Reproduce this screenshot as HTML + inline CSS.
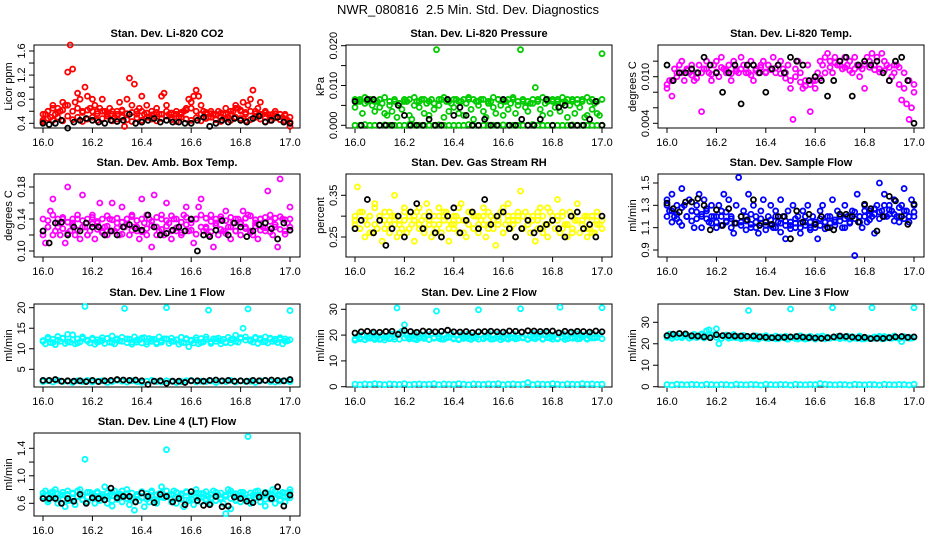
<!DOCTYPE html>
<html><head><meta charset="utf-8"><style>
html,body{margin:0;padding:0;background:#fff;}
svg{display:block;font-family:"Liberation Sans",sans-serif;}
</style></head><body>
<svg id="c" width="936" height="540" viewBox="0 0 936 540">
<text x="468" y="14" text-anchor="middle" font-size="13">NWR_080816&#160; 2.5 Min. Std. Dev. Diagnostics</text>
</svg>
<script>
// ---- data (x implied evenly from 16.0 to 17.0) ----
const xTicks=[16.0,16.2,16.4,16.6,16.8,17.0];
const co2Red=[.45,.55,.6,.5,.7,.55,.65,.6,.75,.7,1.25,1.7,1.3,.75,.9,.8,.6,1.0,.85,.65,.8,.7,.6,.65,.8,.6,.55,.65,.6,.5,.55,.75,.6,.35,.8,1.15,.7,1.05,.6,.65,.85,.55,.7,.5,.6,.55,.65,.55,.85,.9,.7,.55,.5,.55,.6,.5,.55,.6,.65,.8,.75,.85,.95,.85,.7,.6,.55,.5,.6,.55,.55,.6,.5,.55,.65,.5,.55,.6,.7,.65,.6,.75,.55,.7,.8,.95,.6,.65,.75,.55,.6,.55,.5,.55,.6,.5,.55,.5,.55,.45,.35];
const co2RedLow=[.42,.48,.45,.5,.44,.52,.46,.5,.43,.47,.5,.45,.48,.52,.44,.47,.5,.46,.43,.49,.45,.5,.47,.44,.48,.52,.46,.43,.5,.47,.45,.49,.44,.48,.5,.46,.43,.47,.45,.5,.48,.44,.46,.5,.47,.43,.45,.49,.46,.44,.42];
const co2RedMid=[.55,.6,.65,.58,.62,.7,.6,.65,.58,.62,.6,.56,.6,.58,.55,.6,.62,.56,.58,.55,.6,.57,.54,.58,.55,.6,.57,.55,.58,.62,.65,.6,.55,.58,.56,.54,.57,.55,.6,.65,.62,.58,.6,.56,.55,.58,.54,.56,.55,.53,.5];
const co2Black=[.4,.38,.4,.45,.32,.42,.45,.48,.45,.42,.4,.45,.43,.45,.55,.4,.42,.45,.48,.42,.45,.42,.42,.4,.4,.45,.5,.35,.4,.45,.42,.48,.45,.42,.48,.52,.42,.45,.5,.42,.4];
const presGreen=[.0045,.006,.0065,.003,.0055,.006,.0065,.005,.0035,.006,.0045,.0055,.003,.0025,.005,.0035,.006,.002,.0055,.004,.0065,.006,.0025,.0015,.005,.006,.0045,.0065,.003,.0055,.0025,.0065,.004,.019,.005,.0065,.002,.006,.0035,.0055,.0045,.0065,.003,.006,.0025,.0055,.0065,.004,.0015,.006,.005,.0065,.0035,.002,.0055,.006,.0045,.003,.0065,.005,.0025,.006,.004,.0055,.0065,.003,.005,.019,.006,.0045,.0035,.0055,.0065,.0095,.006,.004,.0025,.0055,.0065,.003,.006,.0045,.0065,.0035,.0055,.006,.002,.005,.0065,.003,.0055,.0045,.0065,.002,.0025,.006,.004,.0055,.003,.0025,.018];
const presGreenTop=[.0065,.006,.007,.0065,.006,.0065,.007,.006,.0065,.0055,.006,.0065,.007,.006,.0065,.006,.0055,.0065,.007,.006,.0065,.006,.0065,.007,.0065,.006,.0065,.006,.007,.0065,.006,.0065,.007,.006,.0065,.006,.0055,.0065,.007,.006,.0065,.006,.007,.0065,.006,.0065,.006,.007,.0065,.006,.0065];
const presGreenZero=[0,0,.0002,0,0,0,.0001,0,0,0,0,.0002,0,0,0,0,0,.0001,0,0,0,0,0,.0002,0,0,0,0,0,0,.0001,0,0,0,0,0,.0002,0,0,0,0,0,0,0,.0001,0,0,0,0,0,0];
const presBlack=[.006,0,.0065,.0065,0,0,0,.005,.0025,0,0,0,.0015,0,0,.0065,.0025,.0045,.0025,0,0,.0015,0,0,.0065,0,0,.0015,0,0,.0015,.0065,0,.0045,.005,0,0,0,.0015,.006,0];
const tempMag=[.0085,.0095,.0075,.011,.0105,.0115,.012,.0095,.011,.0105,.0115,.0095,.0105,.0115,.0055,.011,.012,.0105,.0095,.0115,.012,.01,.0125,.011,.0105,.0115,.0095,.012,.011,.0105,.0125,.0115,.011,.0105,.012,.0095,.011,.0105,.0115,.012,.0105,.0115,.011,.0125,.0105,.0115,.012,.011,.0105,.0115,.0085,.0045,.011,.012,.0105,.0085,.0095,.0115,.0055,.0095,.0085,.0105,.012,.0115,.0125,.013,.012,.0105,.0125,.0115,.012,.011,.0125,.0115,.012,.0105,.0125,.0115,.01,.011,.0085,.0125,.012,.013,.0115,.0125,.011,.013,.012,.0115,.0095,.01,.0105,.0115,.009,.007,.0085,.0065,.0045,.006,.009];
const tempMagMid=[.009,.0095,.01,.0105,.0108,.0102,.0098,.0105,.011,.0103,.0106,.0112,.0108,.0104,.0107,.011,.0105,.0102,.0108,.0112,.0106,.0109,.0111,.0104,.0098,.0095,.01,.0093,.0088,.009,.0095,.0098,.0105,.0112,.0118,.0115,.0112,.0108,.011,.0113,.0116,.0112,.0109,.0106,.0108,.0112,.0115,.0112,.0105,.0095,.008];
const tempBlack=[.0115,.0095,.0105,.0105,.011,.0105,.0125,.0115,.0105,.008,.0105,.0115,.0065,.0115,.0115,.0105,.008,.011,.0115,.0105,.0125,.012,.0115,.0095,.01,.0095,.0075,.0095,.012,.0125,.0075,.0115,.012,.0115,.012,.0105,.0095,.012,.0125,.0095,.004];
const ambMag=[.12,.11,.13,.15,.165,.125,.13,.12,.14,.11,.18,.125,.135,.12,.14,.115,.17,.13,.12,.125,.145,.115,.135,.16,.125,.13,.12,.14,.16,.125,.135,.12,.155,.13,.14,.12,.145,.13,.125,.115,.165,.135,.12,.14,.105,.17,.13,.125,.145,.12,.16,.135,.115,.14,.125,.13,.12,.145,.155,.125,.135,.11,.14,.155,.165,.125,.13,.12,.145,.105,.135,.12,.14,.125,.15,.13,.115,.135,.125,.14,.12,.15,.13,.145,.125,.12,.135,.115,.14,.13,.125,.175,.145,.12,.13,.105,.19,.14,.125,.135,.155];
const ambMagMid=[.125,.13,.12,.135,.128,.122,.132,.126,.13,.12,.134,.127,.123,.131,.125,.129,.121,.133,.126,.13,.124,.128,.132,.12,.127,.131,.125,.129,.123,.133,.126,.121,.13,.128,.124,.132,.127,.122,.13,.125,.134,.128,.123,.131,.126,.129,.124,.133,.127,.121,.13];
const ambMagHi=[.14,.138,.145,.14,.142,.136,.14,.145,.138,.14,.142,.137,.14,.144,.139,.141,.136,.14,.143,.138,.14,.145,.137,.142,.14,.138,.144,.14,.136,.142,.139,.14,.145,.141,.137,.14,.143,.138,.142,.14,.136,.141,.144,.139,.14,.142,.137,.141,.143,.139,.14];
const ambBlack=[.125,.11,.135,.136,.12,.13,.125,.135,.13,.13,.12,.125,.12,.13,.133,.128,.126,.145,.13,.12,.122,.126,.13,.125,.14,.1,.12,.118,.126,.138,.12,.135,.13,.118,.125,.133,.135,.128,.115,.135,.126];
const rhYellow=[.29,.37,.27,.31,.25,.28,.3,.26,.33,.27,.29,.24,.31,.28,.26,.3,.35,.25,.29,.27,.32,.26,.3,.28,.24,.31,.27,.29,.26,.33,.28,.25,.3,.27,.32,.26,.29,.31,.24,.28,.27,.3,.26,.33,.29,.25,.28,.31,.27,.3,.26,.29,.32,.25,.28,.3,.27,.23,.29,.31,.26,.28,.33,.27,.3,.25,.29,.36,.27,.31,.28,.26,.3,.24,.29,.32,.27,.28,.25,.31,.29,.27,.34,.26,.3,.28,.25,.31,.27,.29,.33,.26,.28,.3,.25,.27,.29,.26,.3,.28,.27];
const rhYellowMid=[.28,.27,.29,.26,.28,.3,.27,.29,.28,.26,.29,.27,.3,.28,.27,.29,.26,.28,.3,.27,.28,.29,.26,.28,.27,.3,.28,.27,.29,.28,.26,.29,.28,.3,.27,.28,.29,.27,.26,.28,.3,.29,.27,.28,.26,.29,.28,.27,.26,.28,.29];
const rhYellowHi=[.3,.31,.29,.3,.32,.3,.29,.31,.3,.28,.31,.3,.29,.32,.3,.31,.28,.3,.31,.29,.3,.32,.29,.31,.3,.28,.3,.31,.29,.3,.32,.3,.29,.31,.3,.3,.29,.31,.3,.32,.29,.3,.31,.28,.3,.31,.29,.3,.3,.31,.29];
const rhBlack=[.27,.29,.34,.26,.29,.23,.27,.3,.25,.31,.33,.27,.3,.26,.25,.3,.32,.26,.29,.31,.27,.34,.28,.3,.31,.27,.25,.27,.29,.26,.27,.28,.29,.27,.25,.3,.31,.27,.28,.25,.3];
const flowBlue=[1.35,1.25,1.4,1.2,1.3,1.15,1.45,1.3,1.2,1.35,1.25,1.1,1.3,1.4,1.2,1.35,1.25,1.15,1.3,1.2,1.1,1.3,1.25,1.4,1.15,1.35,1.2,1.05,1.3,1.55,1.15,1.25,1.2,1.4,1.1,1.3,1.2,1.05,1.25,1.35,1.15,1.2,1.3,1.1,1.25,1.15,1.35,1.2,1.0,1.25,1.15,1.3,1.1,1.2,1.05,1.25,1.15,1.3,1.1,1.2,1.15,1.0,1.25,1.3,1.15,1.2,1.1,1.35,1.15,1.25,1.2,1.1,1.3,1.2,1.15,1.25,.85,1.4,1.2,1.1,1.3,1.15,1.25,1.2,1.05,1.3,1.5,1.25,1.4,1.2,1.3,1.25,1.35,1.2,1.15,1.3,1.45,1.25,1.2,1.35,1.3];
const flowBlueMid=[1.3,1.25,1.22,1.28,1.2,1.25,1.18,1.22,1.27,1.2,1.15,1.2,1.24,1.18,1.14,1.2,1.16,1.22,1.15,1.18,1.12,1.17,1.2,1.14,1.16,1.12,1.18,1.14,1.2,1.15,1.13,1.18,1.15,1.2,1.17,1.22,1.18,1.2,1.24,1.2,1.25,1.22,1.27,1.24,1.3,1.26,1.22,1.28,1.25,1.2,1.24];
const flowBlueLo=[1.2,1.15,1.18,1.12,1.2,1.16,1.24,1.1,1.18,1.14,1.2,1.12,1.16,1.1,1.14,1.12,1.08,1.13,1.1,1.14,1.08,1.12,1.1,1.06,1.12,1.09,1.14,1.1,1.12,1.08,1.1,1.12,1.09,1.14,1.12,1.16,1.1,1.14,1.18,1.15,1.2,1.17,1.22,1.18,1.2,1.22,1.16,1.2,1.18,1.15,1.2];
const flowBlack=[1.32,1.27,1.24,1.33,1.33,1.36,1.3,1.08,1.26,1.12,1.27,1.14,1.2,1.17,1.35,1.12,1.15,1.13,1.2,1.2,1.0,1.25,1.15,1.22,1.13,1.2,1.1,1.08,1.22,1.22,1.2,1.15,1.31,1.27,1.07,1.2,1.38,1.34,1.2,1.13,1.31];
const l1High=[12,11.2,12.8,11.5,12.3,11,13,11.8,12.5,11.3,13.5,11.6,13.4,11.2,12.4,11.7,12.9,20.3,12.1,11.4,12.6,11.1,12.2,11.8,12.7,11.3,12.5,11.6,13.1,11.2,12.4,11.9,12.8,19.8,11.5,12.3,11.1,12.9,11.6,12.2,11.4,12.7,11.1,12.5,11.8,12.3,11.2,12.9,11.6,12.4,20,11.3,12.6,11.8,12.2,11.1,12.8,11.5,12.3,10.5,12.1,11.4,12.7,11.2,12.5,11.7,12.9,19.4,11.3,12.4,11.8,12.6,11.2,12.3,11.5,12.8,11.4,12.4,13.3,11.6,12.7,15,12.9,19.7,12.2,11.6,12.8,11.3,12.5,11.7,12.9,11.4,12.6,11.8,12.3,11.5,12.7,11.2,12.4,11.9,19.3];
const l1Mid=[11.8,12.4,11.5,12.1,12.6,11.7,12.2,11.4,12.5,11.9,12.3,11.6,12,12.5,11.5,12.2,11.8,12.4,11.6,12.1,12.6,11.7,12.3,11.5,12,12.4,11.8,12.2,11.6,12.5,11.9,12.1,11.5,12.3,11.7,12.4,12,11.6,12.2,11.8,12.5,12.1,11.9,12.6,12.2,11.8,12.4,12,12.3,11.9,12.2];
const l1Low=[2,2.2,1.9,2.3,2,2.1,1.8,2.2,2,2.3,1.9,2.1,2.2,1.8,2,2.3,2.1,1.9,2.2,2,1.8,2.1,2.3,2,1.9,2.2,2.1,1.8,2,2.2,2.3,1.9,2.1,2,2.2,1.8,2.1,2,2.3,1.9,2.2,2,2.1,1.8,2.2,2.3,2,1.9,2.1,2.2,2];
const l1Black=[2.3,2.3,2.5,2.1,2.2,2.1,2.2,2,2.3,2,2.2,2.3,2.5,2.4,2.3,2.4,2.2,1.3,2.1,2.2,1.6,2.1,2.1,1.8,2.2,2.2,2.1,2.3,2.4,2.2,2.3,2.1,2.2,2.1,2.3,2.2,2.3,2.4,2.3,2.2,2.5];
const l2High=[18,19.5,18.5,20,18.2,19,18.8,20.5,18.3,19.2,18.6,20.2,18.1,19.4,18.9,20.4,18.4,30.5,20.8,21.5,24,19.8,18.5,19.6,20.7,18.2,19.3,20.1,18.7,19.9,18.3,20.6,18.8,29.3,19.5,18.4,20.3,18.9,19.2,20.5,18.5,19.8,18.2,20.1,18.7,19.4,20.6,18.3,19.7,18.9,29.8,20.2,18.6,19.3,20.8,18.4,19.9,18.8,20.3,18.2,19.5,20.6,18.7,19.1,20.4,18.5,19.8,30.2,18.9,20.1,18.3,19.6,20.7,18.6,19.2,20.4,18.4,19.9,20.9,18.8,19.4,20.2,18.5,30.8,20.6,18.3,19.7,20.9,18.8,19.3,20.5,18.6,19.8,20.1,18.4,19.5,20.7,18.9,19.2,20.3,30.6];
const l2Mid=[18.5,19,18.2,19.4,18.8,18.3,19.1,18.6,19.3,18.4,18.9,19.2,18.5,18.8,19.4,18.3,19,18.7,18.4,19.2,18.8,18.5,19.3,18.6,19,18.4,18.9,19.1,18.5,19.3,18.7,18.4,19,18.8,19.2,18.5,18.9,19.3,18.6,19,18.4,18.8,19.2,18.6,19,18.5,19.3,18.7,18.9,19.1,18.6];
const l2Low=[1,.8,1.1,.9,1.2,1,.8,1.1,1,.9,1.2,.8,1,1.1,.9,1,1.2,.8,1.1,1,.9,1.2,1,.8,1.1,1,.9,1.1,1,1.2,.8,1,1.1,.9,1,1.6,.8,1.1,1,.9,1.2,1,.8,1.1,1,.9,1.2,1,1.1,.9,1];
const l2Black=[20.8,21.3,21.5,21.2,21.1,21.4,21.5,20.3,21.8,21.4,21.1,21.6,21.4,21.3,21.5,21.9,21.3,21.2,21.4,21,21.3,21.4,21.5,21.3,21.2,21.6,21.5,21.2,21.7,21.6,21.4,21.5,21.6,20.9,21.5,21.2,21.5,21.4,21.2,21.6,21.3];
const l3High=[23.5,24.5,22.5,24,23,24.8,22.8,23.6,24.2,22.6,23.8,24.4,22.9,23.4,24.6,22.7,26,26.5,23.5,24.2,27,20,22.4,23.8,24.1,22.6,23.3,24.3,22.8,23.5,22.3,23.9,22.6,35.5,23.1,22.5,23.7,22.2,23.4,22.9,23.8,22.4,23.1,22.7,23.6,22.3,23.2,22.8,23.5,22.1,36.2,22.9,23.4,22.2,23.7,22.6,23.1,22.4,23.5,22.8,22.2,23.3,22.7,23.6,22.3,23.1,22.6,36.8,22.9,23.4,22.5,23.2,22.7,23.5,22.1,23.3,22.8,22.4,23.6,22.2,23.1,22.7,22.4,36.8,23.2,22.6,23.5,22.3,23.4,22.8,23.1,22.5,23.6,22.9,22.4,21,23.3,22.7,23.1,22.6,36.8];
const l3Mid=[23,23.6,24,23.3,23.8,23.1,23.5,24.1,23.2,23.7,23,22.5,23.4,22.8,23.2,22.6,23,22.7,22.4,23.1,22.6,22.9,22.3,22.8,22.5,23,22.4,22.7,22.2,22.9,22.5,22.8,22.3,22.6,22.9,22.4,22.7,22.2,22.6,22.9,22.3,22.7,22.5,22.8,22.4,22.7,22.9,22.5,22.8,22.6,23];
const l3Low=[1,.8,1.2,1,.9,1.1,1,.8,1.2,1,.9,1.1,1,.8,1.2,1,.9,1.1,1,.8,1.2,1,.9,1.1,1,.8,1.2,1,.9,1.1,1,1.5,1.2,1,.9,1.1,1,.8,1.2,1,.9,1.1,1,.8,1.2,1,.9,1.1,1,.8,1.2];
const l3Black=[23.8,24.5,24.8,24.6,23.7,23.6,23.2,22.8,24.2,23.8,23.8,23.6,23.6,23.5,23.6,23.2,23,22.8,22.9,23,23.2,23.4,23.1,22.9,22.7,22.5,22.8,23.2,23.6,23.4,23.1,22.8,23,22.4,22.5,22.5,22.8,23.2,23.4,23,23.2];
const l4Cyan=[.7,.78,.62,.75,.68,.8,.6,.72,.66,.55,.78,.64,.74,.58,.7,.8,.66,1.24,.62,.76,.68,.6,.75,.64,.7,.84,.6,.72,.56,.78,.66,.74,.62,.7,.8,.58,.68,.5,.72,.64,.76,.55,.7,.62,.78,.66,.6,.74,.84,.68,1.38,.72,.62,.78,.6,.7,.66,.55,.76,.64,.72,.58,.8,.68,.62,.74,.66,.7,.6,.78,.64,.72,.68,.6,.45,.8,.52,.74,.64,.7,.62,.76,.66,1.57,.6,.72,.68,.78,.62,.7,.56,.74,.66,.8,.6,.72,.64,.76,.62,.7,.8];
const l4CyanMid=[.68,.65,.7,.66,.72,.64,.68,.7,.65,.69,.71,.66,.68,.7,.64,.69,.72,.67,.65,.7,.68,.66,.71,.64,.69,.7,.66,.68,.72,.65,.67,.7,.69,.64,.68,.71,.66,.7,.67,.65,.72,.68,.64,.69,.7,.66,.71,.68,.65,.7,.68];
const l4CyanHi=[.75,.72,.77,.74,.76,.73,.75,.78,.72,.76,.74,.77,.73,.75,.76,.72,.78,.74,.75,.73,.77,.74,.76,.72,.75,.78,.73,.76,.74,.77,.72,.75,.74,.77,.73,.76,.75,.72,.78,.74,.76,.73,.75,.77,.72,.76,.74,.78,.73,.75,.76];
const l4Black=[.67,.67,.67,.6,.67,.63,.73,.6,.68,.67,.65,.82,.68,.7,.7,.62,.75,.7,.61,.73,.7,.62,.67,.58,.77,.64,.57,.58,.7,.55,.56,.69,.67,.63,.61,.69,.75,.67,.84,.56,.72];

// ---- layout ----
const svg=document.getElementById('c');
const NS='http://www.w3.org/2000/svg';
const cols=[34,346,658], rows=[45,174,304,433], W=266, H=83;
function el(tag,attrs,parent){const e=document.createElementNS(NS,tag);for(const k in attrs)e.setAttribute(k,attrs[k]);(parent||svg).appendChild(e);return e;}
function panel(ci,ri,title,ylab,yref,ticks,labels,series,name){
  const x0=cols[ci],y0=rows[ri];
  const g=el('g',{});
  
  
  const xs=v=>x0+9+(v-16)*247;
  const ys=v=>yref[1]+(v-yref[0])*(yref[3]-yref[1])/(yref[2]-yref[0]);
  const box=el('rect',{x:x0,y:y0,width:W,height:H,fill:'none',stroke:'#000','stroke-width':1},g);
  
  
  const t=el('text',{x:x0+W/2,y:y0-8,'text-anchor':'middle','font-size':11,'font-weight':'bold'},g);t.textContent=title;
  
  
  xTicks.forEach(v=>{const X=xs(v);el('line',{x1:X,x2:X,y1:y0+H,y2:y0+H+5,stroke:'#000'},g);
    const tl=el('text',{x:X,y:y0+H+18,'text-anchor':'middle','font-size':11},g);tl.textContent=v.toFixed(1);
    
    });
  ticks.forEach((v,i)=>{const Y=ys(v);el('line',{x1:x0-5,x2:x0,y1:Y,y2:Y,stroke:'#000'},g);
    if(labels[i]){const tl=el('text',{x:0,y:0,'text-anchor':'middle','font-size':11,transform:`translate(${x0-9},${Y}) rotate(-90)`},g);tl.textContent=labels[i];
    
    }});
  const yl=el('text',{x:0,y:0,'text-anchor':'middle','font-size':11,transform:`translate(${x0-22},${y0+H/2}) rotate(-90)`},g);yl.textContent=ylab;
  
  
  series.forEach(([arr,col])=>{const n=arr.length;arr.forEach((v,i)=>{
    const c=el('circle',{cx:xs(16+i/(n-1)),cy:ys(v),r:2.5,fill:'none',stroke:col,'stroke-width':1.8},g);
    
    });});
}
const R='#ff0000',G='#00cc00',M='#ff00ff',Y='#ffff00',B='#0000ff',C='#00ffff',K='#000';
panel(0,0,'Stan. Dev. Li-820 CO2','Licor ppm',[0.4,123.3,1.6,51],[0.4,0.6,0.8,1.0,1.2,1.4,1.6],['0.4','','0.8','','1.2','','1.6'],[[co2Red,R],[co2RedLow,R],[co2RedMid,R],[co2Black,K]],'co2');
panel(1,0,'Stan. Dev. Li-820 Pressure','kPa',[0,125.3,0.02,45.7],[0,0.005,0.01,0.015,0.02],['0.000','','0.010','','0.020'],[[presGreen,G],[presGreenTop,G],[presGreenZero,G],[presBlack,K]],'pressure');
panel(2,0,'Stan. Dev. Li-820 Temp.','degrees C',[0.004,123.3,0.010,76.7],[0.004,0.006,0.008,0.010,0.012],['0.004','','','0.010',''],[[tempMag,M],[tempMagMid,M],[tempBlack,K]],'temp');
panel(0,1,'Stan. Dev. Amb. Box Temp.','degrees C',[0.10,251,0.18,187],[0.10,0.12,0.14,0.16,0.18],['0.10','','0.14','','0.18'],[[ambMag,M],[ambMagMid,M],[ambMagHi,M],[ambBlack,K]],'amb-temp');
panel(1,1,'Stan. Dev. Gas Stream RH','percent',[0.25,237,0.35,195.3],[0.25,0.30,0.35],['0.25','','0.35'],[[rhYellow,Y],[rhYellowMid,Y],[rhYellowHi,Y],[rhBlack,K]],'rh');
panel(2,1,'Stan. Dev. Sample Flow','ml/min',[0.9,250,1.5,183],[0.9,1.1,1.3,1.5],['0.9','1.1','1.3','1.5'],[[flowBlue,B],[flowBlueMid,B],[flowBlueLo,B],[flowBlack,K]],'sample-flow');
panel(0,2,'Stan. Dev. Line 1 Flow','ml/min',[5,369.3,20,307.7],[5,10,15,20],['5','10','15','20'],[[l1High,C],[l1Mid,C],[l1Low,C],[l1Black,K]],'line1');
panel(1,2,'Stan. Dev. Line 2 Flow','ml/min',[0,386.7,30,309.3],[0,10,20,30],['0','10','20','30'],[[l2High,C],[l2Mid,C],[l2Low,C],[l2Black,K]],'line2');
panel(2,2,'Stan. Dev. Line 3 Flow','ml/min',[0,386.7,30,322.3],[0,10,20,30],['0','10','20','30'],[[l3High,C],[l3Mid,C],[l3Low,C],[l3Black,K]],'line3');
panel(0,3,'Stan. Dev. Line 4 (LT) Flow','ml/min',[0.6,503.3,1.4,448.3],[0.6,0.8,1.0,1.2,1.4],['0.6','','1.0','','1.4'],[[l4Cyan,C],[l4CyanMid,C],[l4CyanHi,C],[l4Black,K]],'line4');
</script>
</body></html>
